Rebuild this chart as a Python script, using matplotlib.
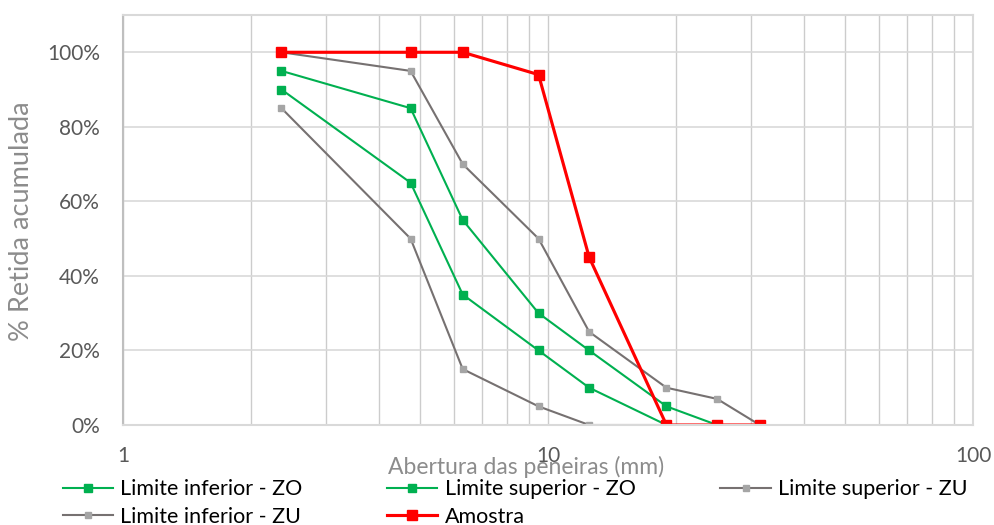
import matplotlib
matplotlib.use("Agg")
import matplotlib.pyplot as plt
from matplotlib.ticker import FixedLocator, NullFormatter, FuncFormatter

plt.rcParams['font.family'] = ['Lato', 'DejaVu Sans']

# sieve openings (mm) and cumulative retained fraction
peneiras = [2.36, 4.75, 6.3, 9.5, 12.5, 19, 25, 31.5]
li_zo = [0.90, 0.65, 0.35, 0.20, 0.10, 0.00]
ls_zo = [0.95, 0.85, 0.55, 0.30, 0.20, 0.05, 0.00]
ls_zu = [1.00, 0.95, 0.70, 0.50, 0.25, 0.10, 0.07, 0.00]
li_zu = [0.85, 0.50, 0.15, 0.05, 0.00, 0.00]
amostra = [1.00, 1.00, 1.00, 0.94, 0.45, 0.00, 0.00, 0.00]

green = "#00B050"
gray_line = "#767171"
gray_mk = "#A5A5A5"
red = "#FF0000"

fig = plt.figure(figsize=(9.94, 5.25), dpi=100)
ax = fig.add_axes([123 / 994, 100 / 525, 850 / 994, 410 / 525])

h1, = ax.plot(peneiras[:len(li_zo)], li_zo, color=green, lw=1.5, marker="s", ms=5.5,
              label="Limite inferior - ZO")
h2, = ax.plot(peneiras[:len(ls_zo)], ls_zo, color=green, lw=1.5, marker="s", ms=5.5,
              label="Limite superior - ZO")
h3, = ax.plot(peneiras[:len(ls_zu)], ls_zu, color=gray_line, lw=1.5, marker="s", ms=5,
              mfc=gray_mk, mec=gray_mk, label="Limite superior - ZU")
h4, = ax.plot(peneiras[:len(li_zu)], li_zu, color=gray_line, lw=1.5, marker="s", ms=5,
              mfc=gray_mk, mec=gray_mk, label="Limite inferior - ZU")
h5, = ax.plot(peneiras, amostra, color=red, lw=2.25, marker="s", ms=7.5,
              label="Amostra")

ax.set_xscale("log")
ax.set_xlim(1, 100)
ax.set_ylim(0, 1.1)
ax.yaxis.set_major_locator(FixedLocator([0, 0.2, 0.4, 0.6, 0.8, 1.0]))
ax.yaxis.set_major_formatter(FuncFormatter(lambda v, p: f"{v * 100:.0f}%"))
ax.xaxis.set_major_locator(FixedLocator([1, 10, 100]))
ax.xaxis.set_major_formatter(FuncFormatter(lambda v, p: f"{v:g}"))
ax.xaxis.set_minor_locator(FixedLocator([2, 3, 4, 5, 6, 7, 8, 9,
                                         20, 30, 40, 50, 60, 70, 80, 90]))
ax.xaxis.set_minor_formatter(NullFormatter())

ax.grid(True, which="both", axis="x", color="#CCCCCC", lw=1)
ax.grid(True, which="major", axis="y", color="#D9D9D9", lw=1.2)
ax.set_axisbelow(True)
ax.tick_params(which="both", length=0)
ax.tick_params(axis="y", labelsize=15, labelcolor="#595959", pad=16.5)
ax.tick_params(axis="x", labelsize=15, labelcolor="#595959", pad=15)

for s in ["top", "right"]:
    ax.spines[s].set_color("#D9D9D9")
    ax.spines[s].set_linewidth(1.5)
ax.spines["left"].set_color("#BFBFBF")
ax.spines["left"].set_linewidth(1.5)
ax.spines["bottom"].set_color("#D9D9D9")
ax.spines["bottom"].set_linewidth(1.5)

fig.text(22 / 994, 1 - 221 / 525, "% Retida acumulada", rotation=90, fontsize=19.5,
         color="#8C8C8C", ha="center", va="center")
fig.text(526 / 994, 1 - 467 / 525, "Abertura das peneiras (mm)", fontsize=16.5,
         color="#8C8C8C", ha="center", va="center")

fig.legend(handles=[h1, h4, h2, h5, h3], ncol=3, loc="center left",
           bbox_to_anchor=(52 / 994, 1 - 503 / 525), frameon=False, fontsize=15.5,
           handlelength=2.33, handletextpad=0.33, columnspacing=3.95,
           labelspacing=0.35, borderpad=0)

fig.savefig("out.png", dpi=100)
